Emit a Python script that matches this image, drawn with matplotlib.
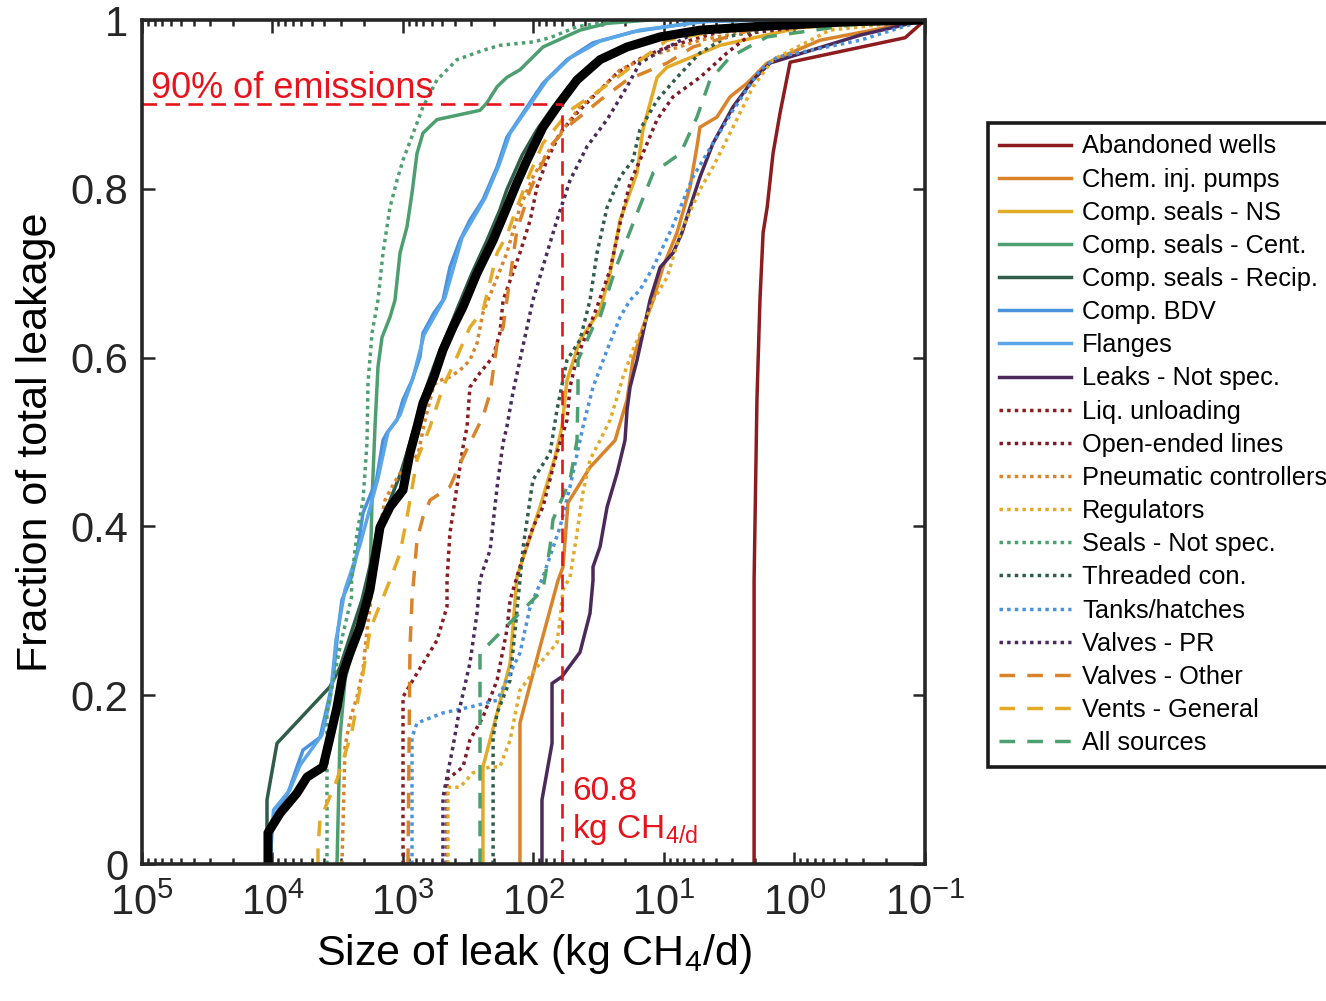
import matplotlib
matplotlib.use('Agg')
from matplotlib import pyplot as plt
from matplotlib.ticker import LogLocator, FixedLocator, FuncFormatter, NullLocator

plt.rcParams['font.family'] = ['Liberation Sans', 'DejaVu Sans']
plt.rcParams['mathtext.default'] = 'regular'
plt.rcParams['axes.unicode_minus'] = False

# leak size (kg CH4/d) and cumulative fraction of total leakage, per source
abandoned_x = [2.04, 2.04, 1.94, 1.84, 1.74, 1.62, 1.46, 1.29, 1.08, 0.142, 0.10]
abandoned_y = [0, 0.336, 0.55, 0.668, 0.748, 0.778, 0.842, 0.89, 0.95, 0.979, 1.0]

chem_x = [127, 127, 89.2, 64.9, 59.4, 54.4, 36.9, 23.7, 19.2, 17.3, 14.5, 12.1, 10.2, 7.95,
          6.32, 5.59, 5.30, 3.93, 3.12, 2.31, 1.62, 0.638, 0.1]
chem_y = [0, 0.167, 0.257, 0.336, 0.352, 0.428, 0.470, 0.502, 0.550, 0.597, 0.636, 0.668, 0.707,
          0.748, 0.802, 0.850, 0.873, 0.885, 0.909, 0.925, 0.949, 0.976, 1.0]

seals_ns_x = [244, 244, 190, 151, 134, 89.2, 68.4, 60.5, 55.4, 44.0, 30.9, 25.9, 21.7, 16.1,
              14.5, 11.3, 9.48, 3.72, 0.908, 0.1]
seals_ns_y = [0, 0.115, 0.179, 0.238, 0.340, 0.423, 0.482, 0.518, 0.573, 0.621, 0.656, 0.700,
              0.763, 0.819, 0.870, 0.932, 0.944, 0.970, 0.991, 1.0]

cent_x = [3204, 3040, 2782, 2252, 2025, 1790, 1728, 1639, 1555, 1448, 1258, 1152, 1054, 932,
          853, 781, 703, 549, 257, 227, 190, 160, 127, 84.6, 44.0, 27.3, 12.8]
cent_y = [0, 0.150, 0.218, 0.277, 0.316, 0.336, 0.431, 0.518, 0.589, 0.624, 0.648, 0.668, 0.724,
          0.755, 0.795, 0.842, 0.866, 0.882, 0.893, 0.902, 0.921, 0.932, 0.941, 0.968, 0.988,
          0.996, 1.0]

recip_x = [11020, 11020, 9237, 3626, 3040, 2459, 2062, 1639, 1350, 1054, 916, 809, 715, 621,
           521, 437, 379, 296, 227, 181, 160, 122, 94.0, 70.9, 52.5, 33.8, 21.7, 11.7, 5.30,
           0.908, 0.1]
recip_y = [0, 0.076, 0.143, 0.210, 0.233, 0.277, 0.313, 0.378, 0.419, 0.461, 0.491, 0.520,
           0.550, 0.577, 0.609, 0.636, 0.660, 0.700, 0.739, 0.775, 0.799, 0.840, 0.870, 0.897,
           0.923, 0.949, 0.964, 0.979, 0.988, 0.998, 1.0]

bdv_x = [10450, 10090, 7607, 6492, 5838, 4325, 3823, 3439, 3149, 2934, 2480, 2252, 2025, 1596,
         1423, 1326, 1112, 1000, 853, 741, 703, 579, 494, 437, 366, 307, 244, 190, 160, 112,
         84.6, 55.4, 35.0, 17.3, 5.30, 1.84]
bdv_y = [0, 0.052, 0.084, 0.115, 0.135, 0.150, 0.186, 0.218, 0.277, 0.313, 0.340, 0.368, 0.416,
         0.455, 0.502, 0.511, 0.526, 0.550, 0.573, 0.601, 0.629, 0.653, 0.668, 0.707, 0.739,
         0.763, 0.787, 0.826, 0.861, 0.897, 0.925, 0.953, 0.973, 0.986, 0.998, 1.0]

flanges_x = [10450, 9825, 7344, 6157, 4176, 3626, 3262, 2782, 2136, 1555, 1303, 1054, 838, 690,
             477, 353, 235, 184, 151, 106, 78.8, 52.5, 30.9, 15.3, 4.44, 1.54]
flanges_y = [0, 0.064, 0.088, 0.117, 0.153, 0.194, 0.265, 0.325, 0.378, 0.457, 0.512, 0.532,
             0.576, 0.627, 0.671, 0.742, 0.789, 0.828, 0.866, 0.900, 0.929, 0.955, 0.975, 0.988,
             0.999, 1.0]

leaks_x = [86.1, 86.1, 72.1, 72.1, 60.5, 44.0, 36.9, 35.0, 35.0, 30.9, 27.3, 22.9, 19.9, 19.2,
           18.2, 16.1, 14.5, 12.8, 10.7, 8.53, 7.28, 6.32, 5.30, 4.21, 2.96, 2.08, 1.54, 0.315,
           0.1]
leaks_y = [0, 0.076, 0.143, 0.214, 0.222, 0.251, 0.297, 0.336, 0.352, 0.376, 0.423, 0.463,
           0.502, 0.538, 0.565, 0.597, 0.629, 0.668, 0.707, 0.724, 0.748, 0.778, 0.814, 0.854,
           0.897, 0.929, 0.949, 0.982, 1.0]

liq_x = [1000, 1000, 781, 549, 460, 460, 437, 386, 347, 323, 307, 257, 204, 181, 171, 127, 106,
         94.0, 78.8, 62.7, 46.4, 35.0, 22.9, 14.5, 9.48, 3.72, 0.908, 0.1]
liq_y = [0, 0.198, 0.226, 0.265, 0.305, 0.336, 0.392, 0.447, 0.494, 0.518, 0.565, 0.582, 0.601,
         0.629, 0.668, 0.724, 0.763, 0.802, 0.834, 0.866, 0.890, 0.909, 0.937, 0.956, 0.968,
         0.986, 0.998, 1.0]

open_x = [460, 460, 347, 307, 244, 190, 160, 151, 127, 101, 84.6, 68.4, 55.4, 52.5, 46.4, 38.9,
          32.6, 25.9, 21.7, 18.2, 14.5, 11.3, 8.53, 5.30, 3.29, 2.08, 0.377, 0.1]
open_y = [0, 0.100, 0.115, 0.147, 0.174, 0.218, 0.277, 0.313, 0.352, 0.399, 0.423, 0.479,
          0.526, 0.565, 0.601, 0.629, 0.660, 0.704, 0.759, 0.807, 0.842, 0.882, 0.909, 0.932,
          0.961, 0.985, 0.998, 1.0]

pneu_x = [2934, 2782, 2548, 2252, 2025, 1888, 1790, 1698, 1698, 1501, 1374, 1193, 1018, 768,
          678, 579, 521, 437, 366, 307, 271, 244, 190, 160, 127, 101, 78.8, 59.4, 44.0, 30.9,
          21.7, 13.5, 5.30, 1.29, 0.1]
pneu_y = [0, 0.139, 0.171, 0.198, 0.230, 0.277, 0.305, 0.336, 0.368, 0.399, 0.431, 0.449, 0.467,
          0.485, 0.526, 0.568, 0.573, 0.577, 0.585, 0.597, 0.617, 0.653, 0.695, 0.724, 0.778,
          0.814, 0.842, 0.870, 0.897, 0.917, 0.941, 0.956, 0.976, 0.994, 1.0]

reg_x = [452, 452, 366, 291, 215, 181, 151, 127, 89.2, 66.1, 62.7, 59.4, 52.5, 46.4, 41.8, 36.9,
         30.9, 25.9, 22.9, 20.6, 17.3, 14.5, 12.1, 9.48, 7.47, 5.30, 4.21, 2.96, 2.08, 1.46,
         0.536, 0.1]
reg_y = [0, 0.091, 0.091, 0.108, 0.115, 0.115, 0.147, 0.206, 0.238, 0.262, 0.289, 0.325, 0.340,
         0.392, 0.440, 0.479, 0.502, 0.526, 0.553, 0.577, 0.609, 0.636, 0.668, 0.695, 0.748,
         0.799, 0.826, 0.873, 0.921, 0.953, 0.988, 1.0]

seals_x = [3823, 3823, 3040, 2480, 2480, 2252, 2025, 1888, 1854, 1728, 1555, 1423, 1258, 1112,
           1000, 781, 703, 549, 386, 244, 181, 101, 74.7, 46.4, 21.7]
seals_y = [0, 0.179, 0.257, 0.316, 0.336, 0.392, 0.431, 0.499, 0.570, 0.629, 0.668, 0.724,
           0.778, 0.810, 0.834, 0.878, 0.897, 0.929, 0.953, 0.964, 0.970, 0.974, 0.979, 0.992,
           1.0]

threaded_x = [204, 204, 190, 151, 127, 120, 101, 74.7, 66.1, 55.4, 44.0, 36.9, 32.6, 27.3, 21.7,
              17.3, 15.3, 11.3, 7.95, 5.30, 3.29, 0.908, 0.1]
threaded_y = [0, 0.150, 0.179, 0.218, 0.336, 0.376, 0.455, 0.487, 0.538, 0.597, 0.621, 0.668,
              0.724, 0.778, 0.814, 0.834, 0.870, 0.905, 0.932, 0.961, 0.980, 0.998, 1.0]

tanks_x = [853, 853, 781, 494, 307, 190, 151, 127, 106, 84.6, 62.7, 52.5, 41.8, 35.0, 27.3, 21.7,
           18.2, 15.3, 12.1, 8.84, 6.00, 4.21, 2.96, 1.84, 1.36, 0.315, 0.1]
tanks_y = [0, 0.150, 0.167, 0.179, 0.186, 0.194, 0.226, 0.250, 0.305, 0.340, 0.399, 0.447,
           0.518, 0.565, 0.609, 0.648, 0.668, 0.680, 0.707, 0.751, 0.814, 0.854, 0.893, 0.941,
           0.956, 0.976, 1.0]

vpr_x = [494, 494, 414, 366, 307, 271, 257, 244, 215, 190, 171, 160, 144, 127, 112, 101, 81.6,
         66.1, 52.5, 38.9, 27.3, 19.2, 15.3, 11.3, 5.30, 0.908, 0.1]
vpr_y = [0, 0.079, 0.139, 0.186, 0.238, 0.297, 0.336, 0.348, 0.372, 0.447, 0.499, 0.518, 0.558,
         0.597, 0.636, 0.668, 0.716, 0.763, 0.810, 0.850, 0.882, 0.921, 0.949, 0.961, 0.988,
         0.998, 1.0]

vother_x = [916, 884, 853, 781, 703, 621, 437, 347, 244, 215, 190, 171, 160, 134, 106, 74.7,
            55.4, 30.9, 19.2, 9.48, 6.00, 2.19, 0.377, 0.1]
vother_y = [0, 0.257, 0.313, 0.384, 0.411, 0.431, 0.447, 0.482, 0.530, 0.558, 0.617, 0.636,
            0.668, 0.751, 0.799, 0.850, 0.873, 0.905, 0.929, 0.949, 0.968, 0.988, 0.998, 1.0]

vents_x = [4480, 4480, 4325, 3204, 2480, 2025, 1790, 1596, 1258, 1054, 932, 781, 621, 494, 386,
           307, 244, 190, 160, 134, 106, 84.6, 52.5, 30.9, 9.48, 2.19, 0.1]
vents_y = [0, 0.020, 0.052, 0.100, 0.155, 0.226, 0.277, 0.297, 0.336, 0.368, 0.411, 0.479,
           0.518, 0.565, 0.601, 0.636, 0.656, 0.724, 0.745, 0.778, 0.819, 0.854, 0.893, 0.917,
           0.976, 0.994, 1.0]

allsrc_x = [257, 257, 215, 151, 84.6, 74.7, 70.9, 52.5, 46.4, 45.6, 45.6, 35.0, 30.9, 23.7,
            16.1, 12.1, 7.47, 5.59, 4.44, 3.12, 1.62, 0.377, 0.1]
allsrc_y = [0, 0.250, 0.262, 0.286, 0.325, 0.376, 0.408, 0.455, 0.502, 0.562, 0.597, 0.636,
            0.648, 0.704, 0.771, 0.819, 0.842, 0.885, 0.929, 0.956, 0.980, 0.994, 1.0]

total_x = [10830, 10830, 8760, 6492, 5440, 4102, 3626, 3204, 2883, 2548, 2136, 1790, 1501, 1258,
           1000, 884, 781, 703, 579, 494, 414, 347, 271, 204, 160, 134, 112, 84.6, 62.7, 46.4,
           30.9, 19.2, 10.7, 5.30, 2.08, 0.377, 0.1]
total_y = [0, 0.037, 0.060, 0.084, 0.103, 0.115, 0.150, 0.186, 0.226, 0.250, 0.281, 0.325,
           0.399, 0.423, 0.443, 0.487, 0.518, 0.546, 0.577, 0.609, 0.636, 0.660, 0.700, 0.739,
           0.778, 0.807, 0.834, 0.873, 0.902, 0.929, 0.953, 0.968, 0.980, 0.988, 0.992, 0.998,
           1.0]

leak_90 = 60.8
frac_90 = 0.9

dark_red = '#8C1C1E'
orange = '#D9842B'
gold = '#E3AA27'
green = '#4E9F70'
dark_green = '#2F5D4A'
blue = '#4A92DE'
light_blue = '#5BA6E6'
purple = '#4B2A5B'

dot = (0, (1, 1.2))
dash = (0, (4.5, 3.5))

series = [
    ('Abandoned wells', abandoned_x, abandoned_y, dark_red, '-'),
    ('Chem. inj. pumps', chem_x, chem_y, orange, '-'),
    ('Comp. seals - NS', seals_ns_x, seals_ns_y, gold, '-'),
    ('Comp. seals - Cent.', cent_x, cent_y, green, '-'),
    ('Comp. seals - Recip.', recip_x, recip_y, dark_green, '-'),
    ('Comp. BDV', bdv_x, bdv_y, blue, '-'),
    ('Flanges', flanges_x, flanges_y, light_blue, '-'),
    ('Leaks - Not spec.', leaks_x, leaks_y, purple, '-'),
    ('Liq. unloading', liq_x, liq_y, dark_red, dot),
    ('Open-ended lines', open_x, open_y, '#7E1A26', dot),
    ('Pneumatic controllers', pneu_x, pneu_y, orange, dot),
    ('Regulators', reg_x, reg_y, gold, dot),
    ('Seals - Not spec.', seals_x, seals_y, green, dot),
    ('Threaded con.', threaded_x, threaded_y, dark_green, dot),
    ('Tanks/hatches', tanks_x, tanks_y, blue, dot),
    ('Valves - PR', vpr_x, vpr_y, purple, dot),
    ('Valves - Other', vother_x, vother_y, orange, dash),
    ('Vents - General', vents_x, vents_y, gold, dash),
    ('All sources', allsrc_x, allsrc_y, green, dash),
]

fig = plt.figure(figsize=(13.26, 10.01), dpi=100)
ax = fig.add_axes([142 / 1326, 1 - 864 / 1001, (925 - 142) / 1326, (864 - 20) / 1001])

for label, xs, ys, color, ls in series:
    ax.plot(xs, ys, color=color, linestyle=ls, linewidth=2.5, label=label)

ax.plot(total_x, total_y, color='black', linewidth=6.5, solid_joinstyle='round')

# 90% marker
red = '#E8141C'
ax.plot([1e5, leak_90], [frac_90, frac_90], color=red, linewidth=1.9, linestyle=(0, (5.5, 3.2)))
ax.plot([leak_90, leak_90], [0, frac_90], color=red, linewidth=1.9, linestyle=(0, (5.5, 3.2)))
ax.text(86000, 0.908, '90% of emissions', color=red, fontsize=26, va='baseline')
ax.text(50.7, 0.076, '60.8', color=red, fontsize=24, va='baseline')
ax.text(50.7, 0.031, 'kg CH$_{4/d}$', color=red, fontsize=24, va='baseline')

ax.set_xscale('log')
ax.set_xlim(1e5, 1e-1)
ax.set_ylim(0, 1)
ax.xaxis.set_major_locator(LogLocator(base=10, numticks=20))
ax.xaxis.set_minor_locator(LogLocator(base=10, subs=range(2, 10), numticks=20))
ax.yaxis.set_major_locator(FixedLocator([0, 0.2, 0.4, 0.6, 0.8, 1]))
ax.yaxis.set_minor_locator(NullLocator())
ax.yaxis.set_major_formatter(FuncFormatter(lambda v, p: '%g' % v))

ax.tick_params(which='both', direction='in', top=True, right=True, width=1.8, colors='#262626')
ax.tick_params(which='major', length=9, labelsize=30, pad=10)
ax.tick_params(which='minor', length=4.5)
ax.tick_params(axis='x', which='major', pad=14)
for s in ax.spines.values():
    s.set_linewidth(2.6)
    s.set_color('#262626')

ax.set_xlabel('Size of leak (kg CH$_4$/d)', fontsize=31, labelpad=6)
ax.set_ylabel('Fraction of total leakage', fontsize=31, labelpad=10)

leg = fig.legend(loc='upper left', bbox_to_anchor=(988 / 1326, 1 - 123 / 1001),
                 fontsize=18.3, frameon=True, fancybox=False, framealpha=1,
                 edgecolor='#1a1a1a', borderpad=0.45, labelspacing=0.36,
                 handlelength=2.8, handletextpad=0.45, borderaxespad=0)
leg.get_frame().set_linewidth(2.6)

plt.savefig('out.png', dpi=100)
